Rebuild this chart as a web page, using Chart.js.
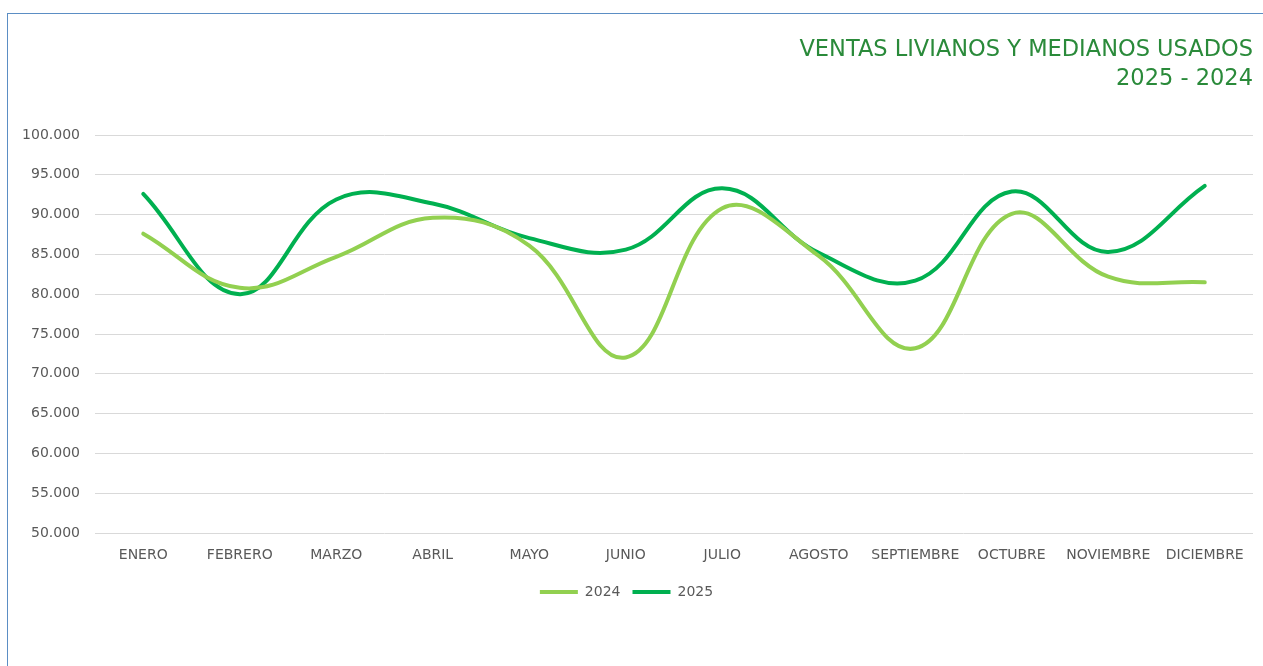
<!DOCTYPE html>
<html lang="es">
<head>
<meta charset="utf-8">
<title>Ventas livianos y medianos usados</title>
<script src="https://cdn.jsdelivr.net/npm/chart.js@4.4.1/dist/chart.umd.min.js"></script>
<style>
  html, body { margin: 0; padding: 0; background: #fff; overflow: hidden; }
  #frame {
    position: absolute; left: 7px; top: 13px; width: 1400px; height: 800px;
    border-left: 1.5px solid #5b8ec4; border-top: 1.5px solid #5b8ec4;
  }
  #wrap { position: absolute; left: 0; top: 0; width: 1263px; height: 666px; }
</style>
</head>
<body>
<div id="frame"></div>
<div id="wrap"><canvas id="ventasChart"></canvas></div>
<script>
// Meses del eje X
const MESES = ['ENERO', 'FEBRERO', 'MARZO', 'ABRIL', 'MAYO', 'JUNIO', 'JULIO',
  'AGOSTO', 'SEPTIEMBRE', 'OCTUBRE', 'NOVIEMBRE', 'DICIEMBRE'];

// Unidades vendidas por mes
const VENTAS_2024 = [87600, 80800, 84700, 89600, 86100, 72050, 90800, 84800, 73200, 90100, 82200, 81500];
const VENTAS_2025 = [92600, 80000, 91900, 91400, 87050, 85600, 93300, 85200, 81700, 92900, 85300, 93600];

// Escala vertical
const Y_MIN = 50000;
const Y_MAX = 100000;
const Y_PASO = 5000;

const FUENTE = "'DejaVu Sans', sans-serif";
const GRIS = '#595959';

// 100000 -> "100.000"
function miles(n) {
  return String(Math.round(n)).replace(/\B(?=(\d{3})+(?!\d))/g, '.');
}

Chart.defaults.font.family = FUENTE;
Chart.defaults.color = GRIS;

const ctx = document.getElementById('ventasChart').getContext('2d');
new Chart(ctx, {
  type: 'line',
  data: {
    labels: MESES,
    datasets: [
      {
        label: '2024',
        data: VENTAS_2024,
        borderColor: '#92d050',
        backgroundColor: '#92d050',
        borderWidth: 4,
        tension: 0.4,
        pointRadius: 0,
        borderCapStyle: 'round',
      },
      {
        label: '2025',
        data: VENTAS_2025,
        borderColor: '#00b050',
        backgroundColor: '#00b050',
        borderWidth: 4,
        tension: 0.4,
        pointRadius: 0,
        borderCapStyle: 'round',
      }
    ]
  },
  options: {
    responsive: true,
    maintainAspectRatio: false,
    animation: false,
    layout: { padding: { left: 0, right: 10, top: 0, bottom: 57 } },
    plugins: {
      title: {
        display: true,
        text: ['VENTAS LIVIANOS Y MEDIANOS USADOS', '2025 - 2024'],
        align: 'end',
        color: '#2a8a3a',
        font: { size: 22.5, weight: 'normal', lineHeight: 29 / 22.5 },
        padding: { top: 36, bottom: 41 }
      },
      legend: {
        position: 'bottom',
        labels: {
          usePointStyle: true,
          pointStyle: 'line',
          pointStyleWidth: 38,
          padding: 12,
          color: GRIS,
          font: { size: 14 }
        }
      },
      tooltip: { enabled: false }
    },
    scales: {
      x: {
        offset: true,
        grid: { display: false },
        border: { display: false },
        ticks: {
          color: GRIS,
          font: { size: 14 },
          padding: 6,
          maxRotation: 0,
          autoSkip: false
        },
        afterFit: (scale) => { scale.height = 40; }
      },
      y: {
        min: Y_MIN,
        max: Y_MAX,
        grid: { color: '#d9d9d9', lineWidth: 1, drawTicks: false },
        border: { display: false },
        ticks: {
          stepSize: Y_PASO,
          color: GRIS,
          font: { size: 14 },
          padding: 15,
          callback: (v) => miles(v)
        },
        afterFit: (scale) => { scale.width = 95; }
      }
    }
  }
});
</script>
</body>
</html>
